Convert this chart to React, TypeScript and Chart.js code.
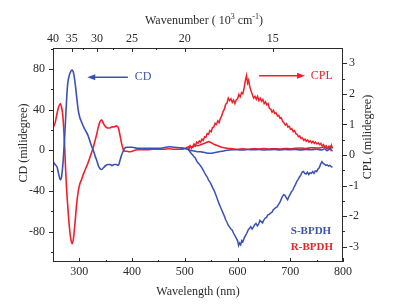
import React, { useEffect, useRef } from "react";
import { Chart, registerables } from "chart.js";

Chart.register(...registerables);

// ---- Data ----
const cdWavelength = [
  250, 254, 258, 261, 264, 266, 268, 270, 272, 274, 276, 278, 281, 284, 286.5, 289, 292, 295, 298, 301,
  304, 308, 312, 316, 320, 324, 327, 330, 333, 336, 339, 342, 346, 350, 354, 358, 362, 366, 370, 374,
  377, 380, 383, 386, 390, 395, 400, 410, 420, 430, 440, 450, 460, 470, 480, 490, 500, 505, 510, 515,
  520, 525, 530, 535, 540, 545, 550, 555, 560, 565, 570, 580, 590, 600, 610, 620, 630, 640, 650, 660,
  670, 680, 690, 700, 710, 720, 730, 740, 750, 760, 765, 770, 775, 780,
];
const cdS = [
  -11, -14, -17, -24, -29, -27, -18, -5, 12, 32, 52, 66, 74, 78, 79, 76, 66, 52, 39, 32,
  28, 23, 19, 15, 9, 3, -1, -6, -10, -15, -18, -19, -17, -15, -14, -14, -15, -14, -14, -15,
  -10, -5, -1, 2, 3, 3, 3, 2, 2, 2, 2, 2, 2.5, 3.5, 3, 2.5, 2, 1, 0, -0.5,
  -1, -1.5, -1.5, -2, -2.5, -3, -3, -2.5, -2, -1.5, -1, 0, 0.5, 0.5, 0.3, 0.8, 0.5, 0.7, 0.3, 0.6,
  0.8, 0.4, 0.7, 0.5, 0.9, 0.4, 0.8, 0.5, 1.0, 0.3, 1.5, -0.5, 1.8, -1,
];
const cdR = [
  22, 27, 37, 43, 46, 43, 37, 24, 5, -20, -40, -55, -75, -88, -92, -86, -70, -52, -40, -33,
  -29, -23, -18, -13, -7, -1, 4, 10, 16, 23, 28, 30, 26, 23, 22, 22, 23, 23, 24, 22,
  15, 7, 1, -1, -1, -1.5, -1, 0.5, 0.5, 0.5, 1, 1, 1, 1.5, 1, 1, 1.5, 3, 4, 3,
  5, 4.5, 5.5, 6.5, 7.5, 8.5, 7.5, 6, 5, 4, 3, 2, 1.5, 1, 1.5, 1, 1.5, 1.2, 1.6, 1.2,
  1.5, 1.3, 1.8, 1.5, 2, 2.2, 1.8, 2.5, 2.2, 2.8, 3.5, 1.5, 3.8, 2,
];

const cplRWavelength = [
  505, 507.5, 510, 512.5, 515, 517.5, 520, 522.5, 525, 527.5, 530, 532.5, 535, 537.5, 540, 542.5, 545, 547.5, 550, 552.5,
  555, 557.5, 560, 562.5, 565, 567.5, 570, 572.5, 575, 577.5, 580, 582.5, 585, 587.5, 590, 592.5, 595, 597.5, 600, 602.5,
  605, 607.5, 610, 612.5, 615, 617, 619, 621, 623, 625.5, 628, 630.5, 633, 635.5, 638, 640.5, 643, 645.5, 648, 650.5,
  653, 655.5, 658, 660.5, 663, 665.5, 668, 670.5, 673, 675.5, 678, 680.5, 683, 685.5, 688, 690.5, 693, 695.5, 698, 700.5,
  703, 705.5, 708, 710.5, 713, 715.5, 718, 720.5, 723, 725.5, 728, 730.5, 733, 735.5, 738, 740.5, 743, 745.5, 748, 750.5,
  753, 755.5, 758, 760.5, 763, 765.5, 768, 770.5, 773, 775.5, 778, 780,
];
const cplR = [
  0.25, 0.18, 0.3, 0.22, 0.28, 0.36, 0.3, 0.42, 0.38, 0.46, 0.42, 0.52, 0.48, 0.6, 0.58, 0.7, 0.68, 0.8, 0.76, 0.9,
  0.92, 1.04, 1.0, 1.12, 1.06, 1.2, 1.28, 1.42, 1.5, 1.66, 1.7, 1.86, 1.78, 1.84, 1.72, 1.8, 1.68, 1.8, 1.84, 1.98,
  1.9, 2.04, 2.0, 2.2, 2.45, 2.6, 2.35, 2.45, 2.25, 2.1, 1.98, 1.86, 1.92, 1.82, 1.92, 1.78, 1.86, 1.76, 1.82, 1.68,
  1.74, 1.64, 1.68, 1.52, 1.5, 1.4, 1.46, 1.36, 1.38, 1.28, 1.3, 1.2, 1.22, 1.1, 1.06, 0.98, 1.02, 0.92, 0.94, 0.84,
  0.86, 0.76, 0.8, 0.7, 0.68, 0.6, 0.62, 0.54, 0.56, 0.48, 0.52, 0.45, 0.49, 0.42, 0.46, 0.4, 0.45, 0.38, 0.42, 0.36,
  0.4, 0.34, 0.38, 0.3, 0.34, 0.26, 0.3, 0.22, 0.28, 0.18, 0.32, 0.22,
];

const cplSWavelength = [
  505, 507.5, 510, 512.5, 515, 517.5, 520, 522.5, 525, 527.5, 530, 532.5, 535, 537.5, 540, 542.5, 545, 547.5, 550, 552.5,
  555, 557.5, 560, 562.5, 565, 567.5, 570, 572.5, 575, 577.5, 580, 582.5, 585, 587.5, 590, 592.5, 595, 597.5, 600, 602,
  604, 606, 608, 610, 612.5, 615, 617.5, 620, 622.5, 625, 627.5, 630, 632.5, 635, 637.5, 640, 642.5, 645, 647.5, 650,
  652.5, 655, 657.5, 660, 662.5, 665, 667.5, 670, 672.5, 675, 677.5, 680, 682.5, 685, 687.5, 690, 692.5, 695, 697.5, 700,
  702.5, 705, 707.5, 710, 712.5, 715, 717.5, 720, 722.5, 725, 727.5, 730, 732.5, 735, 737.5, 740, 742.5, 745, 747.5, 750,
  752.5, 755, 757.5, 760, 762.5, 765, 767.5, 770, 772.5, 775, 777.5, 780,
];
const cplS = [
  0.2, 0.16, 0.1, 0.04, 0.0, -0.06, -0.1, -0.2, -0.25, -0.3, -0.36, -0.42, -0.5, -0.58, -0.66, -0.72, -0.82, -0.88, -0.96, -1.06,
  -1.14, -1.24, -1.36, -1.48, -1.6, -1.7, -1.8, -1.9, -2.0, -2.12, -2.2, -2.3, -2.36, -2.42, -2.46, -2.56, -2.64, -2.72, -2.8, -2.96,
  -2.88, -2.94, -2.8, -2.84, -2.72, -2.64, -2.56, -2.46, -2.4, -2.34, -2.42, -2.36, -2.28, -2.24, -2.32, -2.26, -2.14, -2.18, -2.22, -2.12,
  -2.06, -2.04, -1.96, -1.94, -1.9, -1.88, -1.8, -1.76, -1.72, -1.7, -1.62, -1.56, -1.46, -1.36, -1.3, -1.32, -1.4, -1.46, -1.36, -1.28,
  -1.2, -1.14, -1.04, -0.96, -0.86, -0.8, -0.72, -0.66, -0.56, -0.54, -0.6, -0.62, -0.56, -0.64, -0.58, -0.6, -0.54, -0.6, -0.52, -0.54,
  -0.46, -0.42, -0.3, -0.22, -0.28, -0.3, -0.34, -0.32, -0.36, -0.34, -0.38, -0.4,
];

// ---- Axes / ticks ----
const bottomTicks = [300, 400, 500, 600, 700, 800];
const bottomMinor = [350, 450, 550, 650, 750];
const leftTicks = [-80, -40, 0, 40, 80];
const leftMinor = [-100, -60, -20, 20, 60, 100];
const rightTicks = [-3, -2, -1, 0, 1, 2, 3];
const rightMinor = [-2.5, -1.5, -0.5, 0.5, 1.5, 2.5];
const wavenumberTicks = [40, 35, 30, 25, 20, 15];
const wavenumberMinor = [32.5, 27.5, 22.5, 17.5];

const BLUE = "#3a52b4";
const RED = "#f0202a";
const INK = "#2b2b2b";
const FONT = "'Liberation Serif', 'Times New Roman', serif";

const toWavelength = (k: number) => 1e4 / k; // 10^3 cm^-1 -> nm

const decorPlugin = {
  id: "decor",
  afterDraw(chart: any) {
    const ctx: CanvasRenderingContext2D = chart.ctx;
    const { left, right, top, bottom } = chart.chartArea;
    const sx = chart.scales.x;
    const sy = chart.scales.y;
    const sy1 = chart.scales.y1;
    ctx.save();
    ctx.strokeStyle = INK;
    ctx.lineWidth = 1;
    ctx.strokeRect(left + 0.5, top + 0.5, right - left - 1, bottom - top - 1);
    const line = (x1: number, y1: number, x2: number, y2: number) => {
      ctx.beginPath();
      ctx.moveTo(x1, y1);
      ctx.lineTo(x2, y2);
      ctx.stroke();
    };
    const px = (v: number) => Math.round(sx.getPixelForValue(v)) + 0.5;
    bottomTicks.forEach((v) => line(px(v), bottom, px(v), bottom - 4));
    bottomMinor.forEach((v) => line(px(v), bottom, px(v), bottom - 2));
    wavenumberTicks.forEach((k) => line(px(toWavelength(k)), top, px(toWavelength(k)), top + 4));
    wavenumberMinor.forEach((k) => line(px(toWavelength(k)), top, px(toWavelength(k)), top + 2));
    leftTicks.forEach((v) => {
      const y = Math.round(sy.getPixelForValue(v)) + 0.5;
      line(left, y, left - 4, y);
    });
    leftMinor.forEach((v) => {
      const y = Math.round(sy.getPixelForValue(v)) + 0.5;
      line(left, y, left - 2, y);
    });
    rightTicks.forEach((v) => {
      const y = Math.round(sy1.getPixelForValue(v)) + 0.5;
      line(right, y, right + 4, y);
    });
    rightMinor.forEach((v) => {
      const y = Math.round(sy1.getPixelForValue(v)) + 0.5;
      line(right, y, right + 2, y);
    });

    ctx.fillStyle = INK;
    ctx.font = `12px ${FONT}`;
    ctx.textAlign = "center";
    ctx.textBaseline = "middle";
    ctx.fillText("Wavelength (nm)", (left + right) / 2, 292);

    ctx.save();
    ctx.translate(24, 143);
    ctx.rotate(-Math.PI / 2);
    ctx.fillText("CD (milidegree)", 0, 0);
    ctx.restore();

    ctx.save();
    ctx.translate(368, 137);
    ctx.rotate(-Math.PI / 2);
    ctx.fillText("CPL (milidegree)", 0, 0);
    ctx.restore();

    const parts: [string, boolean][] = [
      ["Wavenumber ( 10", false],
      ["3", true],
      [" cm", false],
      ["-1", true],
      [")", false],
    ];
    const normal = `12px ${FONT}`;
    const sup = `8px ${FONT}`;
    let total = 0;
    parts.forEach(([t, s]) => {
      ctx.font = s ? sup : normal;
      total += ctx.measureText(t).width;
    });
    let cx = 204 - total / 2;
    ctx.textAlign = "left";
    parts.forEach(([t, s]) => {
      ctx.font = s ? sup : normal;
      ctx.fillText(t, cx, s ? 17 : 21);
      cx += ctx.measureText(t).width;
    });

    const arrow = (x1: number, x2: number, y: number, color: string) => {
      ctx.strokeStyle = color;
      ctx.fillStyle = color;
      ctx.lineWidth = 1.5;
      const dir = Math.sign(x2 - x1);
      line(x1, y, x2 - dir * 6, y);
      ctx.beginPath();
      ctx.moveTo(x2, y);
      ctx.lineTo(x2 - dir * 8, y - 3);
      ctx.lineTo(x2 - dir * 8, y + 3);
      ctx.closePath();
      ctx.fill();
    };
    const cdY = sy.getPixelForValue(72);
    arrow(sx.getPixelForValue(392), sx.getPixelForValue(315), cdY, BLUE);
    ctx.font = `12px ${FONT}`;
    ctx.fillStyle = BLUE;
    ctx.textBaseline = "middle";
    ctx.fillText("CD", sx.getPixelForValue(405), cdY);

    const cplY = sy1.getPixelForValue(2.59);
    arrow(sx.getPixelForValue(641), sx.getPixelForValue(728), cplY, RED);
    ctx.fillStyle = RED;
    ctx.fillText("CPL", sx.getPixelForValue(739), cplY);

    ctx.font = `bold 11px ${FONT}`;
    ctx.fillStyle = BLUE;
    ctx.fillText("S-BPDH", sx.getPixelForValue(701), sy1.getPixelForValue(-2.5));
    ctx.fillStyle = RED;
    ctx.fillText("R-BPDH", sx.getPixelForValue(701), sy1.getPixelForValue(-3.0));
    ctx.restore();
  },
};

const pts = (xs: number[], ys: number[]) => xs.map((x, i) => ({ x, y: ys[i] }));

export default function App() {
  const ref = useRef<HTMLCanvasElement>(null);
  useEffect(() => {
    document.body.style.margin = "0";
    if (!ref.current) return;
    const tickFont = { family: FONT, size: 12 };
    const chart = new Chart(ref.current, {
      type: "line",
      data: {
        datasets: [
          {
            data: pts(cdWavelength, cdS),
            borderColor: BLUE,
            borderWidth: 1.6,
            pointRadius: 0,
            yAxisID: "y",
            xAxisID: "x",
            cubicInterpolationMode: "monotone",
          },
          {
            data: pts(cdWavelength, cdR),
            borderColor: RED,
            borderWidth: 1.6,
            pointRadius: 0,
            yAxisID: "y",
            xAxisID: "x",
            cubicInterpolationMode: "monotone",
          },
          {
            data: pts(cplSWavelength, cplS),
            borderColor: BLUE,
            borderWidth: 1.5,
            pointRadius: 0,
            yAxisID: "y1",
            xAxisID: "x",
          },
          {
            data: pts(cplRWavelength, cplR),
            borderColor: RED,
            borderWidth: 1.5,
            pointRadius: 0,
            yAxisID: "y1",
            xAxisID: "x",
          },
        ],
      },
      options: {
        animation: false,
        responsive: false,
        events: [],
        layout: { padding: 0 },
        plugins: { legend: { display: false }, tooltip: { enabled: false } },
        scales: {
          x: {
            type: "linear",
            position: "bottom",
            min: 250,
            max: 800,
            grid: { display: false, drawTicks: false },
            border: { display: false },
            afterBuildTicks: (s: any) => {
              s.ticks = bottomTicks.map((v) => ({ value: v }));
            },
            afterFit: (s: any) => {
              s.height = 42;
            },
            ticks: { font: tickFont, color: INK, padding: 2.5, autoSkip: false, maxRotation: 0 },
          },
          x2: {
            type: "linear",
            position: "top",
            min: 250,
            max: 800,
            grid: { display: false, drawTicks: false },
            border: { display: false },
            afterBuildTicks: (s: any) => {
              s.ticks = wavenumberTicks.map((k) => ({ value: toWavelength(k) }));
            },
            afterFit: (s: any) => {
              s.height = 48;
            },
            ticks: {
              font: tickFont,
              color: INK,
              padding: 2,
              autoSkip: false,
              maxRotation: 0,
              callback: (v: any) => String(Math.round(1e4 / Number(v))),
            },
          },
          y: {
            type: "linear",
            position: "left",
            min: -110,
            max: 100.7,
            grid: { display: false, drawTicks: false },
            border: { display: false },
            afterBuildTicks: (s: any) => {
              s.ticks = leftTicks.map((v) => ({ value: v }));
            },
            afterFit: (s: any) => {
              s.width = 53;
            },
            ticks: { font: tickFont, color: INK, padding: 8 },
          },
          y1: {
            type: "linear",
            position: "right",
            min: -3.5,
            max: 3.5,
            grid: { display: false, drawTicks: false },
            border: { display: false },
            afterBuildTicks: (s: any) => {
              s.ticks = rightTicks.map((v) => ({ value: v }));
            },
            afterFit: (s: any) => {
              s.width = 51;
            },
            ticks: { font: tickFont, color: INK, padding: 6 },
          },
        },
      },
      plugins: [decorPlugin],
    } as any);
    return () => chart.destroy();
  }, []);
  return (
    <div style={{ width: 394, height: 304, background: "#fff" }}>
      <canvas ref={ref} width={394} height={304} style={{ display: "block" }} />
    </div>
  );
}
